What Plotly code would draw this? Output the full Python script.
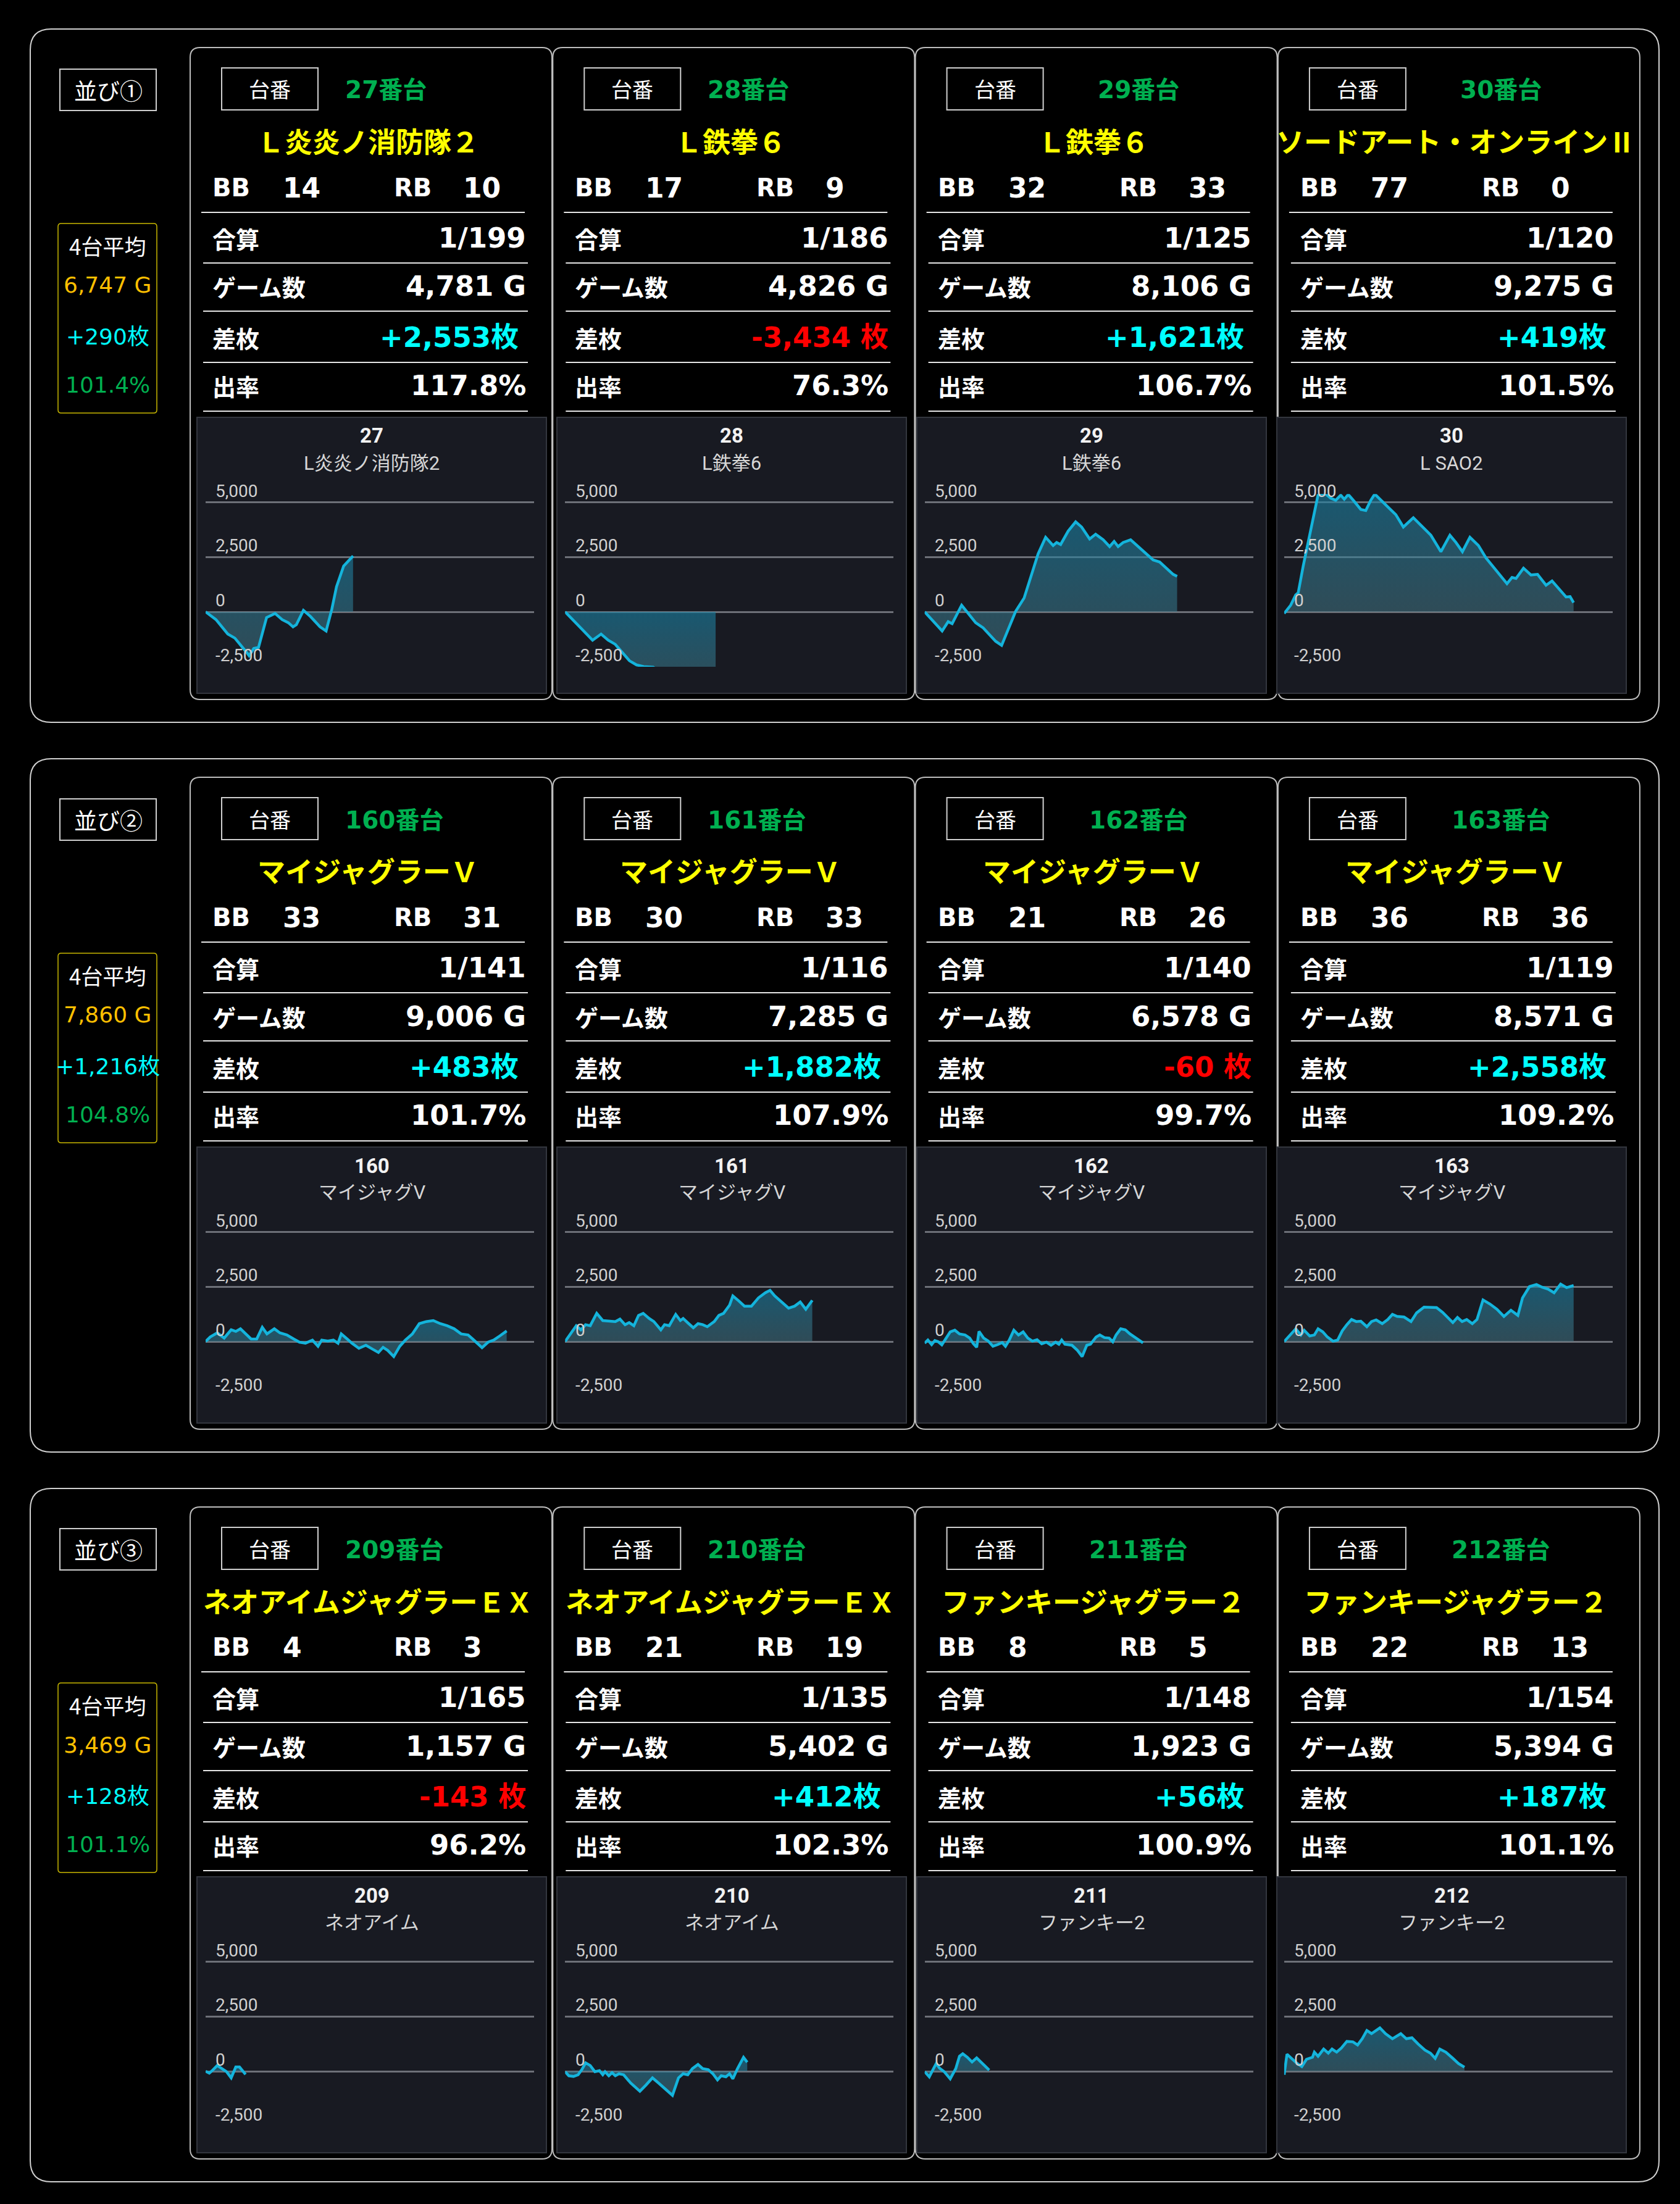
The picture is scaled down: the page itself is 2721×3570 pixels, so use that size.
import plotly.graph_objects as go

W, H = 2721, 3570

# ---------------- data ----------------
SECTION_LABELS = ["並び①", "並び②", "並び③"]
AVG_LABEL = "4台平均"
AVG_GAMES = [6747, 7860, 3469]
AVG_DIFF = [290, 1216, 128]
AVG_RATE = [101.4, 104.8, 101.1]

MACHINE_NO = [[27, 28, 29, 30], [160, 161, 162, 163], [209, 210, 211, 212]]
TITLES = [["Ｌ炎炎ノ消防隊２", "Ｌ鉄拳６", "Ｌ鉄拳６", "ソードアート・オンラインⅡ"],
          ["マイジャグラーＶ", "マイジャグラーＶ", "マイジャグラーＶ", "マイジャグラーＶ"],
          ["ネオアイムジャグラーＥＸ", "ネオアイムジャグラーＥＸ", "ファンキージャグラー２", "ファンキージャグラー２"]]
CHART_NAMES = [["L炎炎ノ消防隊2", "L鉄拳6", "L鉄拳6", "L SAO2"],
               ["マイジャグV", "マイジャグV", "マイジャグV", "マイジャグV"],
               ["ネオアイム", "ネオアイム", "ファンキー2", "ファンキー2"]]
BB = [[14, 17, 32, 77], [33, 30, 21, 36], [4, 21, 8, 22]]
RB = [[10, 9, 33, 0], [31, 33, 26, 36], [3, 19, 5, 13]]
COMBINED = [[199, 186, 125, 120], [141, 116, 140, 119], [165, 135, 148, 154]]
GAMES = [[4781, 4826, 8106, 9275], [9006, 7285, 6578, 8571], [1157, 5402, 1923, 5394]]
DIFF = [[2553, -3434, 1621, 419], [483, 1882, -60, 2558], [-143, 412, 56, 187]]
RATE = [[117.8, 76.3, 106.7, 101.5], [101.7, 107.9, 99.7, 109.2], [96.2, 102.3, 100.9, 101.1]]
ROW_LABELS = ["合算", "ゲーム数", "差枚", "出率"]

Y_TICKS = [5000, 2500, 0, -2500]
Y_TICK_TEXT = ["5,000", "2,500", "0", "-2,500"]
X_MAX = 10550
Y_MIN, Y_MAX = -2510, 5380

# slump graphs (x = game position, y = coin difference)
G27 = [0, 334, 713, 941, 1321, 1397, 1548, 1700, 1958, 2231, 2459, 2657, 2808, 2914, 3142, 3370, 3674, 3871, 4053, 4205, 4433, 4736]
C27 = [0, -357, -1015, -1203, -1861, -2002, -1673, -1626, -263, -75, -357, -498, -686, -592, 66, -216, -686, -874, 113, 1147, 2087, 2553]
G28 = [0, 243, 471, 699, 882, 1155, 1383, 1611, 1839, 2067, 2295, 2523, 2828, 3100, 3500, 3900, 4300, 4834]
C28 = [0, -357, -686, -1015, -1297, -1015, -1297, -1485, -1861, -2237, -2425, -2500, -2530, -2750, -2950, -3100, -3250, -3434]
G29 = [0, 193, 353, 562, 755, 883, 1188, 1397, 1638, 1879, 2120, 2280, 2473, 2682, 2922, 3195, 3404, 3645, 3886, 4127, 4239, 4368,
       4609, 4850, 5042, 5299, 5492, 5733, 5941, 6086, 6214, 6375, 6616, 6857, 7098, 7338, 7547, 7740, 7981, 8109]
C29 = [0, -310, -545, -874, -451, -545, 301, -75, -498, -733, -1109, -1344, -1532, -827, 19, 630, 1617, 2651, 3403, 3027, 3168, 3074,
       3685, 4108, 3873, 3328, 3544, 3290, 2980, 3215, 2980, 3168, 3290, 2980, 2651, 2369, 2275, 2040, 1711, 1621]
G30 = [0, 209, 370, 450, 611, 852, 1094, 1335, 1496, 1656, 1817, 1930, 2059, 2219, 2461, 2621, 2782, 2911, 3104, 3345, 3586, 3828,
       4149, 4390, 4712, 5034, 5323, 5516, 5725, 5966, 6240, 6481, 6803, 7157, 7317, 7446, 7687, 7929, 8138, 8411, 8604, 8813,
       9054, 9183, 9296]
C30 = [-75, 301, 771, 865, 2087, 3779, 5377, 5377, 5189, 5095, 5330, 5142, 5358, 5095, 4672, 4625, 5095, 5377, 5095, 4766, 4437, 3873,
       4296, 3967, 3497, 2745, 3497, 3168, 2745, 3403, 3027, 2463, 1899, 1288, 1570, 1523, 1993, 1683, 1711, 1213, 1410, 1053,
       677, 696, 419]
G160 = [0, 149, 373, 597, 821, 970, 1119, 1313, 1462, 1641, 1820, 1970, 2208, 2388, 2611, 2835, 3014, 3208, 3432, 3611, 3730, 3925,
        4104, 4253, 4357, 4551, 4700, 4924, 5148, 5372, 5551, 5700, 5849, 6043, 6237, 6416, 6640, 6864, 7088, 7312, 7536, 7759,
        7983, 8207, 8431, 8580, 8685, 8879, 9073, 9252, 9446, 9670]
C160 = [0, 207, 395, 160, 536, 461, 583, 301, 113, 113, 649, 348, 583, 395, 301, 113, -28, -75, 66, -216, 66, 19,
        66, -75, 348, 113, -75, -310, -169, -357, -498, -263, -404, -686, -216, 66, 348, 818, 912, 959, 818, 724,
        583, 348, 301, 113, -28, -282, -28, 66, 254, 483]
G161 = [0, 164, 358, 507, 657, 806, 1015, 1209, 1432, 1612, 1761, 1925, 2059, 2208, 2358, 2507, 2701, 2850, 3074, 3193, 3343, 3552,
        3701, 3790, 3969, 4118, 4268, 4417, 4566, 4790, 4939, 5088, 5282, 5387, 5581, 5760, 5984, 6208, 6431, 6581, 6730, 6954,
        7178, 7372, 7551, 7730, 7938]
C161 = [0, 348, 724, 536, 771, 724, 1288, 959, 930, 912, 1025, 771, 865, 724, 1194, 1288, 1053, 912, 536, 771, 724, 1241,
        959, 1053, 818, 630, 818, 771, 677, 912, 1194, 1288, 1664, 2087, 1852, 1617, 1617, 1993, 2228, 2340, 2087, 1805,
        1523, 1617, 1805, 1476, 1882]
G162 = [0, 104, 224, 328, 433, 552, 671, 821, 970, 1119, 1298, 1447, 1567, 1671, 1746, 1895, 2044, 2194, 2343, 2492, 2596, 2716,
        2865, 3014, 3163, 3313, 3462, 3611, 3760, 3910, 4059, 4208, 4312, 4402, 4506, 4730, 4909, 5058, 5208, 5327, 5506, 5626,
        5775, 5924, 6043, 6148, 6297, 6446, 6595, 6789, 7013]
C162 = [-75, 66, -141, 47, -9, -150, 113, 442, 517, 348, 301, 160, -103, -263, 461, 160, 19, -216, -141, -47, -216, 66,
        517, 301, 442, 160, 19, 85, -103, -28, -169, -28, -122, 66, -122, -169, -404, -686, -169, -122, 207, 301,
        179, 160, -9, 301, 583, 536, 348, 160, -60]
G163 = [0, 194, 373, 537, 642, 821, 970, 1089, 1239, 1388, 1567, 1716, 1865, 2014, 2164, 2313, 2462, 2656, 2805, 2955, 3149, 3328,
        3477, 3626, 3850, 4074, 4253, 4492, 4700, 4894, 5088, 5267, 5417, 5566, 5715, 5864, 6043, 6193, 6387, 6611, 6834, 7058,
        7282, 7506, 7655, 7879, 8103, 8282, 8476, 8670, 8879, 9073, 9297]
C163 = [0, 301, 583, 301, 517, 254, 301, 583, 442, 207, 19, 66, 489, 771, 1006, 912, 931, 677, 912, 987, 818, 1006,
        1241, 1147, 1119, 912, 1307, 1570, 1570, 1551, 1335, 1100, 865, 1100, 912, 1006, 818, 1006, 1899, 1711, 1476, 1147,
        1429, 1194, 1993, 2510, 2604, 2482, 2397, 2228, 2623, 2463, 2558]
G209 = [0, 119, 224, 373, 522, 671, 821, 970, 1089, 1224, 1283]
C209 = [0, -85, 47, 263, 122, -19, -301, 197, 197, -66, -143]
G210 = [0, 119, 269, 418, 537, 657, 806, 955, 1104, 1209, 1283, 1403, 1507, 1612, 1731, 1880, 2104, 2402, 2596, 2805, 2999, 3223,
        3447, 3641, 3790, 3939, 4089, 4268, 4417, 4596, 4745, 4894, 5014, 5163, 5282, 5387, 5536, 5730, 5849]
C210 = [-19, -207, -235, -160, 75, 385, 263, -19, 28, -160, -19, -207, -66, -207, -113, -160, -536, -912, -630, -301, -536, -818,
        -1100, -301, -113, -160, 122, 310, 122, 75, -113, -395, -207, -254, -113, -348, 122, 639, 412]
G211 = [0, 149, 284, 373, 478, 627, 821, 1000, 1119, 1224, 1373, 1522, 1671, 1820, 1970, 2074]
C211 = [-19, -254, 122, 357, 141, -19, -348, 122, 686, 799, 639, 423, 611, 404, 216, 56]
G212 = [0, 90, 269, 418, 567, 716, 910, 970, 1089, 1268, 1418, 1537, 1686, 1835, 2014, 2208, 2358, 2507, 2656, 2805, 3074, 3253,
        3477, 3745, 3924, 4104, 4298, 4521, 4700, 4850, 4999, 5193, 5417, 5596, 5790]
C212 = [-160, 780, 545, 357, 216, 545, 639, 874, 686, 1015, 827, 1015, 874, 1062, 1363, 1344, 1203, 1485, 1861, 1720, 1984, 1720,
        1485, 1720, 1485, 1532, 1250, 968, 827, 592, 1015, 874, 592, 357, 187]

SERIES = [[(G27, C27), (G28, C28), (G29, C29), (G30, C30)],
          [(G160, C160), (G161, C161), (G162, C162), (G163, C163)],
          [(G209, C209), (G210, C210), (G211, C211), (G212, C212)]]

# ---------------- styling ----------------
JP = "Noto Sans CJK JP"
NUM = "DejaVu Sans, Noto Sans CJK JP"
CH = "Roboto, Noto Sans CJK JP"
GREEN = "#00b050"
YELLOW = "#ffff00"
CYAN = "#00ffff"
RED = "#ff0000"
ORANGE = "#ffc000"
LINE_C = "#14b4dc"
PANEL_BG = "#181a22"
GRID_C = "#6d7078"

SEC_DY = 1182
CARD_X0, CARD_DX, CARD_W = 308, 587.3, 586
PANEL_X0, PANEL_DX, PANEL_W = 319, 583, 566
GRID_X0, GRID_DX, GRID_W = 333, 582.3, 532
ZERO_Y = 991
PX_PER_2500 = 88.67


def px(x):
    return x / W


def py(y):
    return 1 - y / H


shapes = []
anns = []


def rrect(x0, y0, x1, y1, r, line_color, width, fill="rgba(0,0,0,0)"):
    pts = [("M", [(x0 + r, y0)]), ("L", [(x1 - r, y0)]), ("Q", [(x1, y0), (x1, y0 + r)]),
           ("L", [(x1, y1 - r)]), ("Q", [(x1, y1), (x1 - r, y1)]), ("L", [(x0 + r, y1)]),
           ("Q", [(x0, y1), (x0, y1 - r)]), ("L", [(x0, y0 + r)]), ("Q", [(x0, y0), (x0 + r, y0)])]
    path = ""
    for cmd, ps in pts:
        path += cmd + " " + " ".join(f"{px(a):.6f},{py(b):.6f}" for a, b in ps) + " "
    path += "Z"
    shapes.append(dict(type="path", path=path, xref="paper", yref="paper", layer="below",
                       line=dict(color=line_color, width=width), fillcolor=fill))


def rect(x0, y0, x1, y1, line_color, width, fill="rgba(0,0,0,0)"):
    shapes.append(dict(type="rect", x0=px(x0), x1=px(x1), y0=py(y1), y1=py(y0), xref="paper", yref="paper",
                       layer="below", line=dict(color=line_color, width=width), fillcolor=fill))


def hline(x0, x1, y, color="#e6e6e6", width=2):
    shapes.append(dict(type="line", x0=px(x0), x1=px(x1), y0=py(y), y1=py(y), xref="paper", yref="paper",
                       layer="below", line=dict(color=color, width=width)))


def txt(x, y, s, size, color, family, weight="normal", xanchor="center"):
    anns.append(dict(x=px(x), y=py(y), xref="paper", yref="paper", text=s, showarrow=False,
                     xanchor=xanchor, yanchor="middle",
                     font=dict(family=family, size=size, color=color, weight=weight)))


def fmt_diff(v):
    return f"+{v:,}枚" if v > 0 else f"{v:,} 枚"


fig = go.Figure()
layout_axes = {}

for s in range(3):
    dy = s * SEC_DY
    # outer section box
    rrect(49, 47 + dy, 2687, 1170 + dy, 34, "#d0d0d0", 2)
    # section label box
    rect(97, 112 + dy, 253, 179 + dy, "#cfcfcf", 2)
    txt(175, 146 + dy, SECTION_LABELS[s], 37, "#ffffff", JP)
    # average box
    rrect(94, 362 + dy, 254, 669 + dy, 5, "#c9b800", 1.5)
    txt(174, 397 + dy, AVG_LABEL, 35, "#ffffff", JP)
    txt(174, 462 + dy, f"{AVG_GAMES[s]:,} G", 36, ORANGE, NUM)
    txt(174, 545 + dy, f"+{AVG_DIFF[s]:,}枚", 36, CYAN, NUM)
    txt(174, 623 + dy, f"{AVG_RATE[s]:.1f}%", 36, GREEN, NUM)

    for i in range(4):
        k = s * 4 + i + 1
        cx = CARD_X0 + i * CARD_DX
        rrect(cx, 77 + dy, cx + CARD_W, 1133 + dy, 16, "#bdbdbd", 2)
        # header
        rect(cx + 51, 110 + dy, cx + 207, 178 + dy, "#cfcfcf", 2)
        txt(cx + 129, 144 + dy, "台番", 34, "#ffffff", JP)
        if i < 2:
            txt(cx + 249, 146 + dy, f"{MACHINE_NO[s][i]}番台", 39, GREEN, NUM, "bold", "left")
        else:
            txt(cx + 361, 146 + dy, f"{MACHINE_NO[s][i]}番台", 39, GREEN, NUM, "bold")
        txt(cx + 288, 228 + dy, TITLES[s][i], 45, YELLOW, JP, "bold")
        # BB / RB
        txt(cx + 34, 304 + dy, "BB", 40, "#ffffff", NUM, "bold", "left")
        txt(cx + 148, 304 + dy, str(BB[s][i]), 44, "#ffffff", NUM, "bold", "left")
        txt(cx + 328, 304 + dy, "RB", 40, "#ffffff", NUM, "bold", "left")
        txt(cx + 440, 304 + dy, str(RB[s][i]), 44, "#ffffff", NUM, "bold", "left")
        hline(cx + 18, cx + 542, 344 + dy)
        # rows
        values = [f"1/{COMBINED[s][i]}", f"{GAMES[s][i]:,} G", fmt_diff(DIFF[s][i]), f"{RATE[s][i]:.1f}%"]
        colors = ["#ffffff", "#ffffff", CYAN if DIFF[s][i] > 0 else RED, "#ffffff"]
        row_y = [385, 464, 546, 624]
        line_y = [426, 504, 587, 666]
        for r in range(4):
            txt(cx + 34, row_y[r] + dy, ROW_LABELS[r], 38, "#ffffff", JP, "bold", "left")
            right = cx + (534 if (r == 2 and DIFF[s][i] > 0) else 546)
            txt(right, row_y[r] + dy, values[r], 45, colors[r], NUM, "bold", "right")
            hline(cx + 21, cx + 547, line_y[r] + dy)

        # chart panel
        pxl = PANEL_X0 + i * PANEL_DX
        rect(pxl, 676 + dy, pxl + PANEL_W, 1123 + dy, "#33363e", 2, PANEL_BG)
        txt(pxl + PANEL_W / 2, 706 + dy, str(MACHINE_NO[s][i]), 33, "#f2f2f2", CH, "bold")
        txt(pxl + PANEL_W / 2, 750 + dy, CHART_NAMES[s][i], 31, "#d6d6d6", CH)

        gx0 = GRID_X0 + i * GRID_DX
        zero = ZERO_Y + dy
        ytop = zero - Y_MAX / 2500 * PX_PER_2500
        ybot = zero - Y_MIN / 2500 * PX_PER_2500
        xa = "xaxis" if k == 1 else f"xaxis{k}"
        ya = "yaxis" if k == 1 else f"yaxis{k}"
        xr = "x" if k == 1 else f"x{k}"
        yr = "y" if k == 1 else f"y{k}"
        layout_axes[xa] = dict(domain=[px(gx0), px(gx0 + GRID_W)], anchor=yr, range=[0, X_MAX],
                               showgrid=False, zeroline=False, showline=False, showticklabels=False,
                               ticks="", fixedrange=True)
        layout_axes[ya] = dict(domain=[py(ybot), py(ytop)], anchor=xr, range=[Y_MIN, Y_MAX],
                               tickvals=Y_TICKS, showgrid=True, gridcolor=GRID_C, gridwidth=3,
                               zeroline=False, showline=False, showticklabels=False, ticks="",
                               fixedrange=True)
        for tv, tt in zip(Y_TICKS, Y_TICK_TEXT):
            anns.append(dict(x=0.027, xref=f"{xr} domain", y=tv, yref=yr, text=tt, showarrow=False,
                             xanchor="left", yanchor="bottom", yshift=0,
                             font=dict(family=CH, size=28, color="#d0d0d0")))
        gx, gy = SERIES[s][i]
        fig.add_trace(go.Scatter(x=gx, y=gy, mode="lines", xaxis=xr, yaxis=yr,
                                 line=dict(color=LINE_C, width=4.5), fill="tozeroy",
                                 fillgradient=dict(type="vertical",
                                                   colorscale=[[0, "rgba(70,125,140,0.50)"],
                                                               [1, "rgba(25,130,165,0.60)"]]),
                                 hoverinfo="skip", showlegend=False))

fig.update_layout(width=W, height=H, margin=dict(l=0, r=0, t=0, b=0),
                  paper_bgcolor="#000000", plot_bgcolor="rgba(0,0,0,0)",
                  showlegend=False, shapes=shapes, annotations=anns, **layout_axes)

fig.write_html("out.html", config={"displayModeBar": False},
               post_script="document.body.style.margin='0px';")
